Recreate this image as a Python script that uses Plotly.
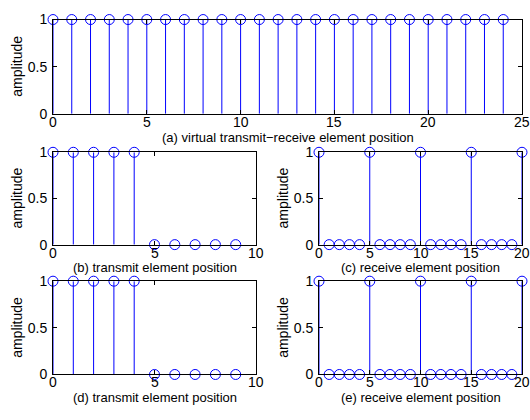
import plotly.graph_objects as go

# ---- data ----
pos_a = list(range(0, 25))
amp_a = [1] * 25
pos_b = list(range(0, 10))
amp_b = [1, 1, 1, 1, 1, 0, 0, 0, 0, 0]
pos_c = list(range(0, 21))
amp_c = [1, 0, 0, 0, 0, 1, 0, 0, 0, 0, 1, 0, 0, 0, 0, 1, 0, 0, 0, 0, 1]
pos_d = list(range(0, 10))
amp_d = [1, 1, 1, 1, 1, 0, 0, 0, 0, 0]
pos_e = list(range(0, 21))
amp_e = [1, 0, 0, 0, 0, 1, 0, 0, 0, 0, 1, 0, 0, 0, 0, 1, 0, 0, 0, 0, 1]

titles = ["(a) virtual transmit\u2212receive element position",
          "(b) transmit element position",
          "(c) receive element position",
          "(d) transmit element position",
          "(e) receive element position"]
xranges = [[0, 25], [0, 10], [0, 20], [0, 10], [0, 20]]
xticks = [[0, 5, 10, 15, 20, 25], [0, 5, 10], [0, 5, 10, 15, 20], [0, 5, 10], [0, 5, 10, 15, 20]]
yticks = [0, 0.5, 1]
yticklabels = ["0", "0.5", "1"]

W, H = 530, 420
FONT = "Liberation Sans, Arial, Helvetica, sans-serif"
BLUE = "rgb(0,0,255)"

# pixel boxes: (left, right, top, bottom)
boxes = [(53, 522, 12, 110),
         (53, 256, 150, 246),
         (319, 522, 150, 246),
         (53, 256, 284, 381),
         (319, 522, 284, 381)]
title_y = [134.5, 269.5, 269.5, 405, 405]

series = [(pos_a, amp_a), (pos_b, amp_b), (pos_c, amp_c), (pos_d, amp_d), (pos_e, amp_e)]

fig = go.Figure()
layout = dict(width=W, height=H, margin=dict(l=0, r=0, t=0, b=0),
              paper_bgcolor="white", plot_bgcolor="white", showlegend=False,
              font=dict(family=FONT, size=14, color="black"))
annotations = []

for i, ((xs, ys), (l, r, t, b)) in enumerate(zip(series, boxes)):
    k = "" if i == 0 else str(i + 1)
    xa, ya = "x" + k, "y" + k
    sx, sy = [], []
    for x, y in zip(xs, ys):
        sx += [x, x, None]
        sy += [0, y, None]
    fig.add_trace(go.Scatter(x=sx, y=sy, mode="lines", xaxis=xa, yaxis=ya,
                             line=dict(color=BLUE, width=1), hoverinfo="skip",
                             cliponaxis=False))
    fig.add_trace(go.Scatter(x=xs, y=ys, mode="markers", xaxis=xa, yaxis=ya,
                             marker=dict(symbol="circle-open", size=10,
                                         color=BLUE, line=dict(color=BLUE, width=1)),
                             cliponaxis=False))
    axcommon = dict(showgrid=False, zeroline=False, showline=True, linecolor="black",
                    linewidth=1, mirror="ticks", ticks="inside", ticklen=4,
                    tickcolor="black", tickfont=dict(family=FONT, size=14, color="black"),
                    fixedrange=True)
    layout["xaxis" + k] = dict(axcommon, domain=[l / W, r / W], range=xranges[i],
                               tickvals=xticks[i], anchor=ya, showticklabels=False)
    layout["yaxis" + k] = dict(axcommon, domain=[1 - b / H, 1 - t / H], range=[0, 1],
                               tickvals=yticks, ticktext=yticklabels, anchor=xa,
                               ticklabelstandoff=2)
    # x tick labels placed just under the axis line
    for tv in xticks[i]:
        annotations.append(dict(text=str(tv), xref=xa, yref=ya, x=tv, y=0,
                                xanchor="center", yanchor="top", showarrow=False,
                                borderpad=0, borderwidth=0, yshift=0,
                                font=dict(family=FONT, size=14, color="black")))
    annotations.append(dict(text=titles[i], xref="paper", yref="paper",
                            x=(l + r) / 2 / W, y=1 - title_y[i] / H,
                            xanchor="center", yanchor="middle", showarrow=False,
                            borderpad=0, borderwidth=0,
                            font=dict(family=FONT, size=13, color="black")))
    annotations.append(dict(text="amplitude", xref="paper", yref="paper",
                            x=(l - 36) / W, y=1 - (t + b) / 2 / H, textangle=-90,
                            xanchor="center", yanchor="middle", showarrow=False,
                            font=dict(family=FONT, size=14, color="black")))

layout["annotations"] = annotations
fig.update_layout(**layout)
fig.write_html("out.html")
